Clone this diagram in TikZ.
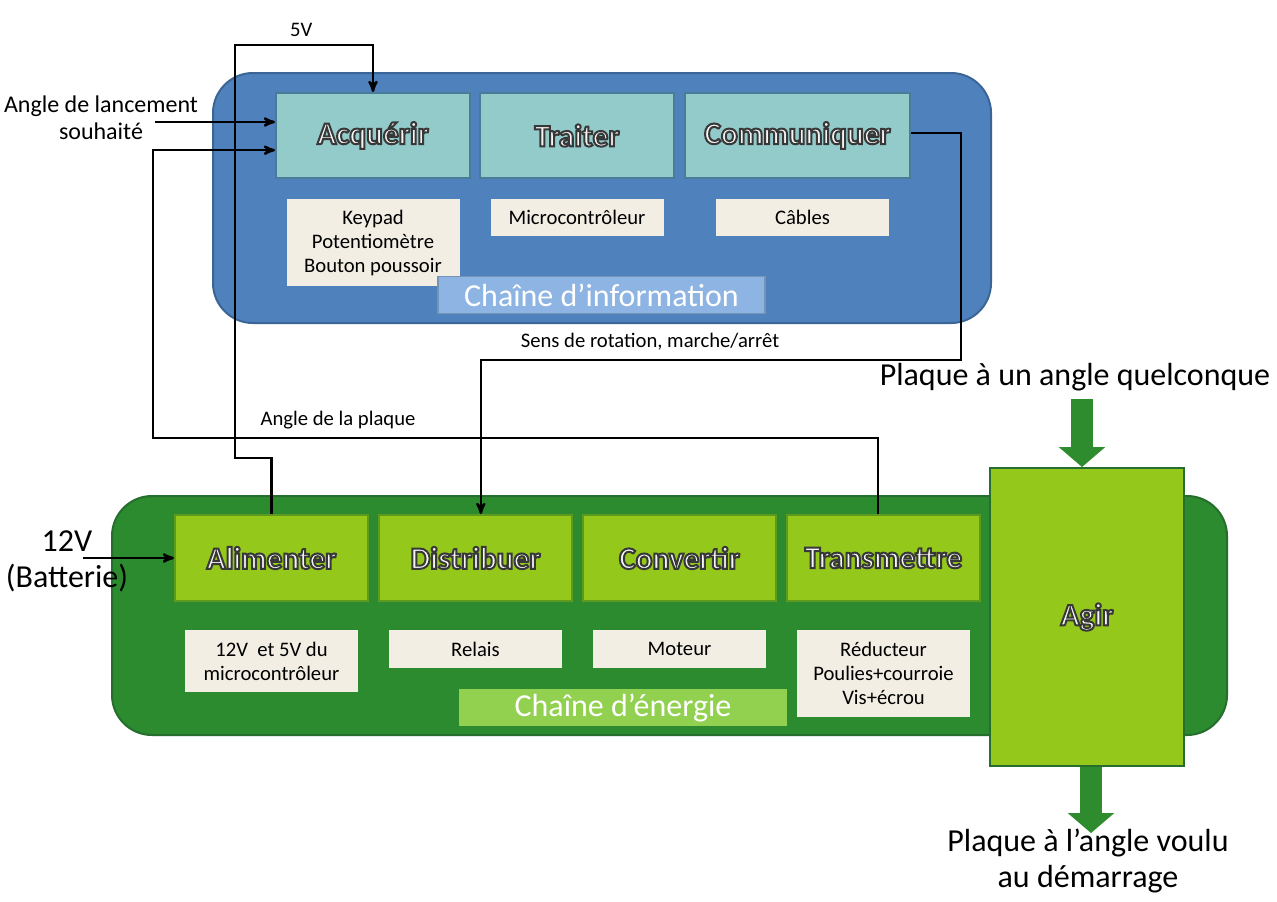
\documentclass[tikz,border=0pt]{standalone}
\usepackage{fontspec}
\setmainfont{Carlito}
\usetikzlibrary{arrows,arrows.meta,positioning,calc}

\definecolor{infoback}{HTML}{4F81BD}
\definecolor{infoedge}{HTML}{3A6596}
\definecolor{infofill}{HTML}{93CBCA}
\definecolor{infoline}{HTML}{4A7C98}
\definecolor{infochain}{HTML}{8DB4E2}
\definecolor{nrjback}{HTML}{2C8A2F}
\definecolor{nrjedge}{HTML}{256E2E}
\definecolor{nrjfill}{HTML}{94C91B}
\definecolor{nrjline}{HTML}{5E9A20}
\definecolor{nrjchain}{HTML}{92D050}
\definecolor{compofill}{HTML}{F2EEE3}
\definecolor{arrowgreen}{HTML}{2E8B2E}

\newcommand\fsmall{\fontsize{15.5}{18}\selectfont}
\newcommand\fmid{\fontsize{18}{20.5}\selectfont}
\newcommand\fbig{\fontsize{24}{27.5}\selectfont}
\newcommand\fhead{\fontsize{23.5}{26}\selectfont\bfseries}
% lettres blanches au contour gris
\newcommand\wordart[1]{{\color{white!96!black}\special{pdf:literal 2 Tr 0.22 0.22 0.22 RG 1.5 w}#1\special{pdf:literal 0 Tr}}}

\begin{document}
\begin{tikzpicture}[x=0.75pt,y=-0.75pt,>=stealth',node distance=15pt,
    infof/.style={draw=infoline,fill=infofill,line width=1.5pt,minimum width=145.5pt,minimum height=63.75pt,inner sep=0pt,font=\fhead},
    nrjf/.style={draw=nrjline,fill=nrjfill,line width=1.5pt,minimum width=144.75pt,minimum height=64.5pt,inner sep=0pt,font=\fhead},
    compo/.style={fill=compofill,minimum width=129.75pt,minimum height=27.75pt,inner sep=0pt,align=center,font=\fsmall},
    chaine/.style={text=white,minimum height=28pt,inner sep=0pt,font=\fbig},
    lbl/.style={font=\fsmall,align=center,inner sep=0pt},
    liaison/.style={->,line width=1.8pt},
    bigarrow/.style={draw=arrowgreen,line width=17pt,-{Triangle[length=15pt,width=35pt,line width=0pt]}}]

\useasboundingbox[fill=white] (0,0) rectangle (1277,901);

% les deux chaines
\draw[fill=infoback,draw=infoedge,line width=1.5pt,rounded corners=30pt] (213,73) rectangle (991,323);
\draw[fill=nrjback,draw=nrjedge,line width=1.5pt,rounded corners=30pt] (112,496) rectangle (1227,735);

% chaine d'information
\node[infof] (acq) at (373,135.5) {\wordart{Acquérir}};
\node[infof,right=6pt of acq] (trai) {\wordart{Traiter}};
\node[infof,right=6.75pt of trai,minimum width=168.75pt] (comm) {\wordart{Communiquer}};
\node[compo,below=15pt of acq,minimum height=65.25pt] (keyp) {Keypad\\Potentiomètre\\Bouton poussoir};
\node[compo,below=15pt of trai] (micro) {Microcontrôleur};
\node[compo,below=15pt of comm,xshift=3.75pt] (cabl) {Câbles};
\node[chaine,fill=infochain,draw=infoedge!70,line width=1pt,minimum width=245.25pt] (cinfo) at (601.5,295) {Chaîne d’information};

% chaine d'energie
\node[nrjf] (alim) at (271.5,558) {\wordart{Alimenter}};
\node[nrjf,right=6.75pt of alim] (dist) {\wordart{Distribuer}};
\node[nrjf,right=6.75pt of dist] (conv) {\wordart{Convertir}};
\node[nrjf,right=6.75pt of conv] (trans) {\wordart{Transmettre}};
\node[compo,below=21pt of alim,minimum height=46.5pt] (alimc) {12V\ \ et 5V du\\microcontrôleur};
\node[compo,below=21pt of dist,minimum height=28.5pt] (relc) {Relais};
\node[compo,below=21pt of conv,minimum height=28.5pt] (motc) {Moteur};
\node[compo,below=21pt of trans,minimum height=65.25pt] (redc) {Réducteur\\Poulies+courroie\\Vis+écrou};
\node[chaine,fill=nrjchain,minimum width=246pt] (cnrj) at (623,707.5) {Chaîne d’énergie};
\node[nrjf,draw=nrjedge,minimum width=145.5pt,minimum height=223.5pt] (agir) at (1087,617) {\wordart{Agir}};

% textes
\node[lbl,font=\fmid] (lanc) at (101,118) {Angle de lancement\\souhaité};
\node[lbl,font=\fbig,text depth=0pt] (bat) at (67,559) {12V\\(Batterie)};
\node[lbl] (plaq) at (338,420) {Angle de la plaque};
\node[lbl] (sens) at (650,342) {Sens de rotation, marche/arrêt};
\node[lbl,font=\fbig] (quel) at (1075,377) {Plaque à un angle quelconque};
\node[lbl,font=\fbig] (voulu) at (1088,861) {Plaque à l’angle voulu\\au démarrage};

\coordinate (v1) at (235,458);
\coordinate (v2) at (235,45);
\coordinate (p1) at (153,438);
\coordinate (s1) at (961,360);
\coordinate (lancin) at (155,122);
\coordinate (batin) at (83,558);
\coordinate (inA) at (1082,399);
\coordinate (outA) at (1091,833);

% liaisons
\draw[liaison] (alim.north) |- (v1) -- (v2) -| node[pos=0.24,above=5pt,lbl] {5V} (acq.north);
\draw[liaison] (lancin) -- (lancin -| acq.west);
\draw[liaison] ([xshift=-4pt]trans.north) |- (p1) |- ([yshift=-11pt]acq.west);
\draw[liaison] ([yshift=2pt]comm.east) -| (s1) -| ([xshift=4pt]dist.north);
\draw[liaison] (batin) -- (alim.west);
\draw[bigarrow] (inA) -- (inA |- agir.north);
\draw[bigarrow] (outA |- agir.south) -- (outA);
\end{tikzpicture}
\end{document}
